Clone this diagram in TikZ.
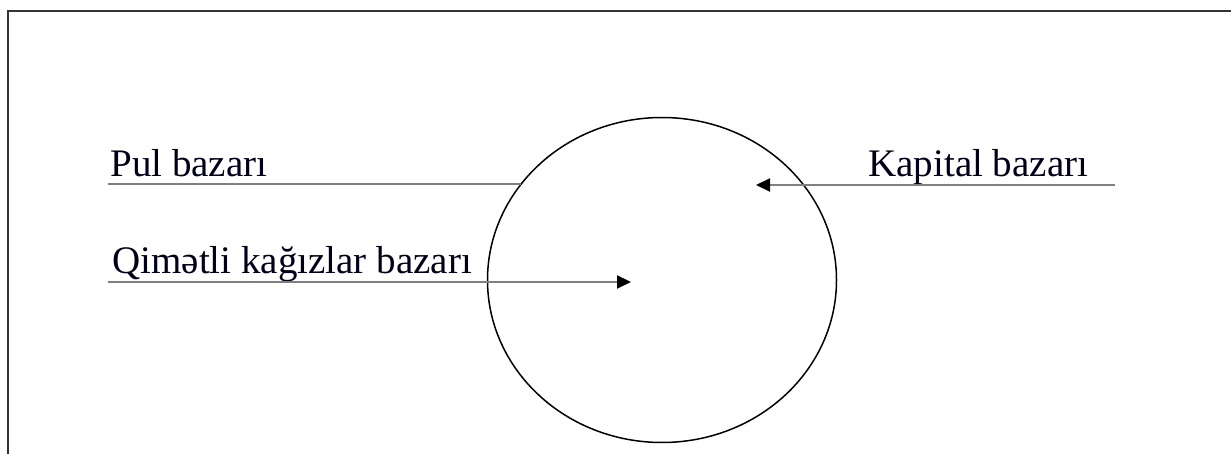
\documentclass[tikz,border=0pt]{standalone}
\usepackage{fontspec}
\setmainfont{Liberation Serif}
\usetikzlibrary{shapes.geometric,arrows.meta}
\begin{document}
\begin{tikzpicture}[x=0.5pt,y=-0.5pt,
  frame/.style={draw=black!80,line width=1pt},
  market/.style={font=\fontsize{19.5pt}{22pt}\selectfont,text=black!90!blue,inner sep=0pt,anchor=base west},
  feed/.style={draw=black!50,line width=1.1pt},
  flow/.style={feed,-{Triangle[length=7pt,width=6.5pt,color=black]}},
  ring/.style={draw=black,line width=0.75pt,ellipse,inner sep=0pt,minimum width=174.5pt,minimum height=162.5pt}]
\useasboundingbox (0,0) rectangle (1231,454);
\fill[white] (0,0) rectangle (1231,454);
% frame (top and left edges)
\coordinate (fbl) at (8,455);
\coordinate (ftl) at (8,11);
\coordinate (ftr) at (1232,11);
\draw[frame] (fbl) -- (ftl) -- (ftr);
% circle
\node[ring] (circ) at (662,280) {};
% labels
\node[market] (pul) at (110,177) {Pul bazarı};
\node[market] (kap) at (868,177) {Kapital bazarı};
\node[market] (qim) at (112,273) {Qimətli kağızlar bazarı};
% connector end points
\coordinate (pulA) at (108,184);
\coordinate (pulB) at (521,184);
\coordinate (kapA) at (1115,185);
\coordinate (kapB) at (756,185);
\coordinate (qimA) at (108,282);
\coordinate (qimB) at (631,282);
\draw[feed] (pulA) -- (pulB);
\draw[flow] (kapA) -- (kapB);
\draw[flow] (qimA) -- (qimB);
\end{tikzpicture}
\end{document}
